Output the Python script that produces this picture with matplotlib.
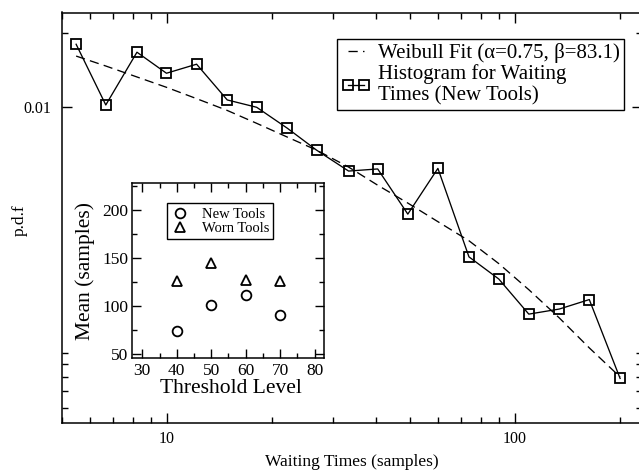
import matplotlib
matplotlib.use('Agg')
import matplotlib.pyplot as plt
from matplotlib.ticker import FixedLocator, FixedFormatter, NullFormatter, MultipleLocator

plt.rcParams['font.family'] = ['Liberation Serif', 'DejaVu Serif']

# ---- main plot data ----
wait_x = [5.49, 6.68, 8.21, 9.98, 12.18, 14.92, 18.13, 22.22, 26.93, 33.30,
          40.37, 49.27, 60.12, 73.85, 89.94, 109.7, 134.2, 163.7, 200.7]
hist_pdf = [0.01798, 0.01019, 0.01669, 0.01371, 0.01492, 0.01068, 0.00997,
            0.00819, 0.00668, 0.00549, 0.00560, 0.00367, 0.00563, 0.00246,
            0.00200, 0.00144, 0.00151, 0.00165, 0.000789]
fit_pdf = [0.0161, 0.01467, 0.01324, 0.01202, 0.01081, 0.00968, 0.00858,
           0.00754, 0.00668, 0.00570, 0.00481, 0.00407, 0.00342, 0.00286,
           0.00231, 0.00181, 0.00139, 0.00105, 0.0008]
x_major = [10, 100]
x_major_labels = ['10', '100']
x_minor = [5, 6, 7, 8, 9, 20, 30, 40, 50, 60, 70, 80, 90, 200]
y_major = [0.01]
y_major_labels = ['0.01']
y_minor = [0.02, 0.001, 0.0009, 0.0008, 0.0007, 0.0006]

# ---- inset data ----
thresholds = [40, 50, 60, 70]
new_mean = [74, 101, 112, 91]
worn_mean = [126, 145, 127, 126]

W, H = 639, 471
fig = plt.figure(figsize=(W / 100, H / 100), dpi=100)

ax = fig.add_axes([62 / W, (H - 423) / H, 580 / W, 410.5 / H])
ax.set_xscale('log')
ax.set_yscale('log')
ax.plot(wait_x, fit_pdf, ls=(0, (7, 4)), color='black', lw=0.95,
        label='Weibull Fit (α=0.75, β=83.1)')
ax.plot(wait_x, hist_pdf, '-', marker='s', ms=7, mfc='none', mec='black',
        mew=1.3, color='black', lw=0.95,
        label='Histogram for Waiting\nTimes (New Tools)')
ax.set_xlim(5, 232)
ax.set_ylim(0.00052, 0.0242)

ax.xaxis.set_major_locator(FixedLocator(x_major))
ax.xaxis.set_major_formatter(FixedFormatter(x_major_labels))
ax.xaxis.set_minor_locator(FixedLocator(x_minor))
ax.xaxis.set_minor_formatter(NullFormatter())
ax.yaxis.set_major_locator(FixedLocator(y_major))
ax.yaxis.set_major_formatter(FixedFormatter(y_major_labels))
ax.yaxis.set_minor_locator(FixedLocator(y_minor))
ax.yaxis.set_minor_formatter(NullFormatter())

ax.tick_params(which='both', direction='in', top=True, right=True, width=1.0)
ax.tick_params(which='major', length=7.5, labelsize=11.5)
ax.tick_params(which='minor', length=4.5)
ax.tick_params(axis='y', which='major', pad=8)
ax.tick_params(axis='x', which='major', pad=6)
for s in ax.spines.values():
    s.set_linewidth(1.1)

leg = ax.legend(loc='upper left', bbox_to_anchor=(0.4747, 0.9347),
                borderaxespad=0, fancybox=False, edgecolor='black',
                framealpha=1, fontsize=15, numpoints=2, handlelength=1.4,
                handletextpad=0.33, borderpad=0.2, labelspacing=0.02)
leg.get_frame().set_linewidth(1.0)

fig.text(20 / W, 1 - 220 / H, 'p.d.f', rotation=90, ha='center', va='center',
         fontsize=12.5)
fig.text(352 / W, 1 - 462 / H, 'Waiting Times (samples)', ha='center',
         va='center', fontsize=12.5)

# ---- inset ----
axin = fig.add_axes([132.3 / W, (H - 358.3) / H, 191.7 / W, 175 / H])
axin.plot(thresholds, new_mean, 'o', ms=7, mfc='none', mec='black', mew=1.3,
          ls='none', label='New Tools')
axin.plot(thresholds, worn_mean, '^', ms=7.5, mfc='none', mec='black',
          mew=1.3, ls='none', label='Worn Tools')
axin.set_xlim(27.1, 82.7)
axin.set_ylim(46, 228)
axin.xaxis.set_major_locator(MultipleLocator(10))
axin.xaxis.set_minor_locator(MultipleLocator(5))
axin.yaxis.set_major_locator(MultipleLocator(50))
axin.yaxis.set_minor_locator(MultipleLocator(25))
axin.tick_params(which='both', direction='in', top=True, right=True, width=1.0)
axin.tick_params(which='major', length=6.5, labelsize=12.5)
axin.tick_params(which='minor', length=3.5)
axin.tick_params(axis='y', which='major', pad=3)
axin.tick_params(axis='x', which='major', pad=3.5)
for s in axin.spines.values():
    s.set_linewidth(1.1)

leg2 = axin.legend(loc='upper left', bbox_to_anchor=(0.179, 0.886),
                   borderaxespad=0, fancybox=False, edgecolor='black',
                   framealpha=1, fontsize=10.5, handlelength=1.25,
                   handletextpad=0.85, borderpad=0.3, labelspacing=0.05)
leg2.get_frame().set_linewidth(1.0)

axin.text(-0.245, 0.5, 'Mean (samples)', transform=axin.transAxes,
          rotation=90, ha='center', va='center', fontsize=15.5)
axin.text(0.515, -0.17, 'Threshold Level', transform=axin.transAxes,
          ha='center', va='center', fontsize=15.5)

fig.savefig('out.png', dpi=100)
